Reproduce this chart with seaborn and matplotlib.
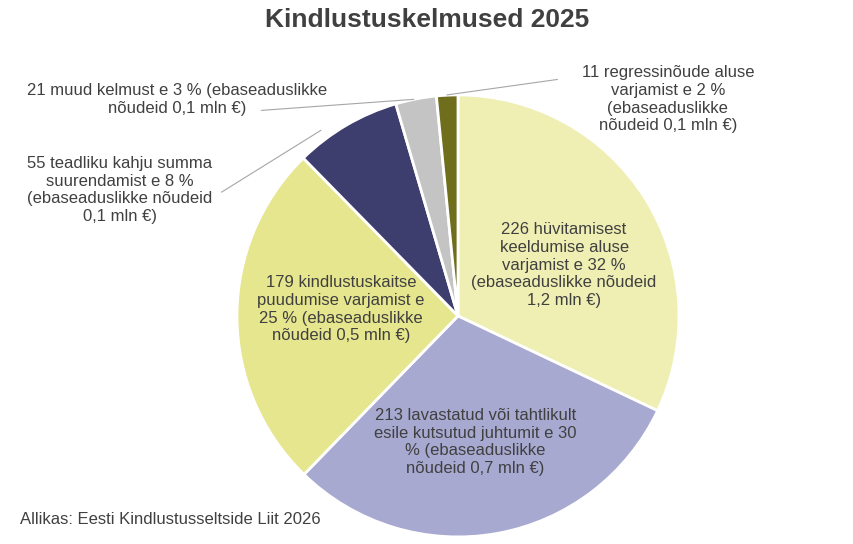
import matplotlib
matplotlib.use("Agg")
import matplotlib.pyplot as plt
import seaborn as sns

sns.set_theme(style="white")
plt.rcParams['font.family'] = ['Liberation Sans', 'DejaVu Sans']

counts = [226, 213, 179, 55, 21, 11]
labels = [
    "226 hüvitamisest\nkeeldumise aluse\nvarjamist e 32 %\n(ebaseaduslikke nõudeid\n1,2 mln €)",
    "213 lavastatud või tahtlikult\nesile kutsutud juhtumit e 30\n% (ebaseaduslikke\nnõudeid 0,7 mln €)",
    "179 kindlustuskaitse\npuudumise varjamist e\n25 % (ebaseaduslikke\nnõudeid 0,5 mln €)",
    "55 teadliku kahju summa\nsuurendamist e 8 %\n(ebaseaduslikke nõudeid\n0,1 mln €)",
    "21 muud kelmust e 3 % (ebaseaduslikke\nnõudeid 0,1 mln €)",
    "11 regressinõude aluse\nvarjamist e 2 %\n(ebaseaduslikke\nnõudeid 0,1 mln €)",
]
colors = ["#EFEFB4", "#A7A9D1", "#E6E68E", "#3D3D6E", "#C4C4C4", "#6E6E1C"]

fig = plt.figure(figsize=(8.54, 5.44), dpi=100)
ax = fig.add_axes([0.2775, 0.013, 442/854, 442/544])
ax.pie(counts, colors=colors, startangle=90, counterclock=False,
       wedgeprops=dict(edgecolor="white", linewidth=2))
ax.set_xlim(-1, 1); ax.set_ylim(-1, 1); ax.set_aspect("equal")
ax.axis("off")

tc = "#404040"
fs = 12
kw = dict(ha="center", va="center", fontsize=fs, color=tc, linespacing=1.22)
ax.text(0.48, 0.23, labels[0], clip_on=False, **kw)
ax.text(0.08, -0.57, labels[1], clip_on=False, **kw)
ax.text(-0.53, 0.03, labels[2], clip_on=False, **kw)
ax.text(-1.53, 0.57, labels[3], clip_on=False, **kw)
ax.text(-1.27, 0.98, labels[4], clip_on=False, **kw)
ax.text(0.95, 0.98, labels[5], clip_on=False, **kw)

lc = "#A6A6A6"
ax.plot([-1.07, -0.62], [0.56, 0.84], color=lc, lw=0.8, clip_on=False)
ax.plot([-0.89, -0.2], [0.93, 0.98], color=lc, lw=0.8, clip_on=False)
ax.plot([0.45, -0.05], [1.07, 1.0], color=lc, lw=0.8, clip_on=False)

fig.text(0.5, 0.963, "Kindlustuskelmused 2025", ha="center", va="center",
         fontsize=19, fontweight="bold", color=tc)
fig.text(0.023, 0.045, "Allikas: Eesti Kindlustusseltside Liit 2026", ha="left",
         va="center", fontsize=fs, color=tc)
fig.savefig("out.png", dpi=100)
